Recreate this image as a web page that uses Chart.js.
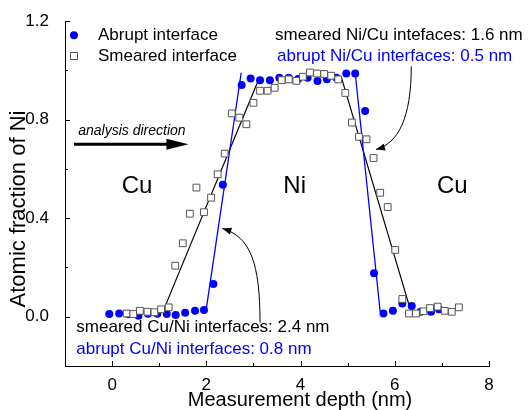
<!DOCTYPE html>
<html>
<head>
<meta charset="utf-8">
<script src="https://cdn.jsdelivr.net/npm/chart.js@4/dist/chart.umd.min.js"></script>
<style>
  html, body { margin:0; padding:0; background:#fff; }
  #wrap { width:531px; height:410px; }
</style>
</head>
<body>
<div id="wrap"><canvas id="c" width="531" height="410"></canvas></div>
<script>
'use strict';

/* ── DATA ──────────────────────────────────── */
const abruptX = [-0.06,0.15,0.35,0.56,0.76,0.96,1.16,1.35,1.55,1.76,1.95,2.15,2.35,2.75,2.94,3.14,3.35,3.55,3.75,3.95,4.15,4.36,4.56,4.76,4.97,5.16,5.37,5.56,5.76,5.96,6.16,6.36,6.55,6.77,6.94];
const abruptY = [0.011,0.013,0.010,0.004,0.012,0.012,0.011,0.007,0.016,0.024,0.027,0.133,0.536,0.940,0.967,0.960,0.960,0.970,0.970,0.965,0.970,0.957,0.964,0.970,0.987,0.987,0.835,0.176,0.013,0.024,0.054,0.043,0.020,0.020,0.030];

const smearX = [0.31,0.45,0.59,0.75,0.90,1.04,1.20,1.34,1.50,1.65,1.79,1.95,2.10,2.24,2.39,2.54,2.70,2.85,3.00,3.14,3.30,3.45,3.60,3.75,3.91,4.05,4.20,4.35,4.50,4.65,4.80,4.95,5.09,5.24,5.40,5.55,5.69,5.85,6.01,6.16,6.30,6.45,6.61,6.75,6.91,7.06,7.21,7.36];
const smearY = [0.013,0.011,0.024,0.020,0.018,0.030,0.038,0.207,0.298,0.418,0.524,0.424,0.483,0.578,0.662,0.825,0.808,0.781,0.868,0.917,0.917,0.929,0.960,0.963,0.957,0.974,0.991,0.987,0.985,0.978,0.963,0.908,0.788,0.730,0.720,0.644,0.503,0.445,0.271,0.072,0.013,0.013,0.022,0.035,0.041,0.024,0.020,0.038];

// fitted interface lines
const abruptFitLeftX  = [2.00, 2.74], abruptFitLeftY  = [0.033, 0.990];
const abruptFitRightX = [5.16, 5.69], abruptFitRightY = [0.990, 0.020];
const smearFitLeftX   = [1.12, 3.13], smearFitLeftY   = [0.040, 0.972];
const smearFitRightX  = [4.86, 6.33], smearFitRightY  = [0.975, 0.030];

// axes
const xMin = -1, xMax = 8, xStep = 1, xLabelEvery = 2;
const yMin = -0.2, yMax = 1.2, yStep = 0.2;
const yLabels = [0.0, 0.4, 0.8, 1.2];

const BLUE = '#0000ff';
const FONT = '"Liberation Sans", Arial, sans-serif';

const pts = (xs, ys) => xs.map((x,i) => ({ x, y: ys[i] }));
const fitLine = (xs, ys, color, w) => ({
  type:'line', data: pts(xs, ys), borderColor: color, borderWidth: w,
  pointRadius: 0, fill: false, tension: 0, order: 3
});

/* ── ANNOTATIONS PLUGIN ────────────────────── */
function text(ctx, s, x, y, size, color, align, style) {
  ctx.font = (style||'') + ' ' + size + 'px ' + FONT;
  ctx.fillStyle = color;
  ctx.textAlign = align || 'left';
  ctx.textBaseline = 'middle';
  ctx.fillText(s, x, y);
}

function curvedArrow(ctx, p0, c1, c2, p1) {
  ctx.save();
  ctx.strokeStyle = '#000'; ctx.fillStyle = '#000'; ctx.lineWidth = 1;
  ctx.beginPath();
  ctx.moveTo(p0[0], p0[1]);
  ctx.bezierCurveTo(c1[0], c1[1], c2[0], c2[1], p1[0], p1[1]);
  ctx.stroke();
  const a = Math.atan2(p1[1]-c2[1], p1[0]-c2[0]);
  const L = 9, W = 3.5;
  ctx.beginPath();
  ctx.moveTo(p1[0], p1[1]);
  ctx.lineTo(p1[0] - L*Math.cos(a) + W*Math.sin(a), p1[1] - L*Math.sin(a) - W*Math.cos(a));
  ctx.lineTo(p1[0] - L*Math.cos(a) - W*Math.sin(a), p1[1] - L*Math.sin(a) + W*Math.cos(a));
  ctx.closePath(); ctx.fill();
  ctx.restore();
}

const annot = {
  id: 'annot',
  afterDraw(chart) {
    const ctx = chart.ctx, xs = chart.scales.x, ys = chart.scales.y;
    const X = v => xs.getPixelForValue(v), Y = v => ys.getPixelForValue(v);
    const P = (x, y) => [X(x), Y(y)];
    const ca = chart.chartArea;
    ctx.save();

    // inward tick marks
    ctx.strokeStyle = '#000'; ctx.lineWidth = 1;
    xs.ticks.forEach(t => {
      const px = Math.round(X(t.value)) + 0.5;
      const major = Math.round(t.value) % xLabelEvery === 0;
      ctx.beginPath(); ctx.moveTo(px, ca.bottom); ctx.lineTo(px, ca.bottom - (major ? 5 : 3)); ctx.stroke();
    });
    ys.ticks.forEach(t => {
      if (Math.abs(t.value - yMin) < 1e-6) return;
      const py = Math.round(Y(t.value)) + 0.5;
      const major = yLabels.some(l => Math.abs(l - t.value) < 1e-6);
      ctx.beginPath(); ctx.moveTo(ca.left, py); ctx.lineTo(ca.left + (major ? 5 : 3), py); ctx.stroke();
    });

    // axis titles
    text(ctx, 'Measurement depth (nm)', 300, 400, 20, '#000', 'center');
    ctx.save();
    ctx.translate(19, 209); ctx.rotate(-Math.PI/2);
    text(ctx, 'Atomic fraction of Ni', 0, 0, 22, '#000', 'center');
    ctx.restore();

    // legend
    const lx = X(-0.81);
    ctx.fillStyle = BLUE;
    ctx.beginPath(); ctx.arc(lx, Y(1.142), 4, 0, Math.PI*2); ctx.fill();
    ctx.fillStyle = '#fff'; ctx.strokeStyle = '#555'; ctx.lineWidth = 1;
    ctx.beginPath(); ctx.rect(Math.round(lx) - 3.5, Math.round(Y(1.058)) - 3.5, 7, 7); ctx.fill(); ctx.stroke();
    text(ctx, 'Abrupt interface', X(-0.30), Y(1.142), 17, '#000');
    text(ctx, 'Smeared interface', X(-0.30), Y(1.058), 17, '#000');

    // interface widths
    text(ctx, 'smeared Ni/Cu intefaces: 1.6 nm', X(3.46), Y(1.142), 17, '#000');
    text(ctx, 'abrupt Ni/Cu interfaces: 0.5 nm', X(3.50), Y(1.058), 17, BLUE);
    text(ctx, 'smeared Cu/Ni interfaces: 2.4 nm', X(-0.76), Y(-0.045), 17, '#000');
    text(ctx, 'abrupt Cu/Ni interfaces: 0.8 nm', X(-0.76), Y(-0.132), 17, BLUE);

    // layer names
    text(ctx, 'Cu', X(0.53), Y(0.528), 24, '#000', 'center');
    text(ctx, 'Ni', X(3.875), Y(0.528), 24, '#000', 'center');
    text(ctx, 'Cu', X(7.22), Y(0.528), 24, '#000', 'center');

    // analysis direction arrow
    text(ctx, 'analysis direction', X(-0.72), Y(0.752), 14, '#000', 'left', 'italic');
    const ay = Y(0.70), ax0 = X(-0.81), ax1 = X(1.62);
    ctx.strokeStyle = '#000'; ctx.fillStyle = '#000'; ctx.lineWidth = 3;
    ctx.beginPath(); ctx.moveTo(ax0, ay); ctx.lineTo(ax1 - 18, ay); ctx.stroke();
    ctx.beginPath(); ctx.moveTo(ax1, ay); ctx.lineTo(ax1 - 22, ay - 5.5); ctx.lineTo(ax1 - 22, ay + 5.5); ctx.closePath(); ctx.fill();

    // curved pointers
    curvedArrow(ctx, P(3.14, -0.024), P(3.14, 0.22), P(2.93, 0.325), P(2.34, 0.358));
    curvedArrow(ctx, P(6.35, 1.016), P(6.35, 0.805), P(6.07, 0.703), P(5.60, 0.679));

    ctx.restore();
  }
};

/* ── CHART ─────────────────────────────────── */
new Chart(document.getElementById('c'), {
  type: 'scatter',
  data: {
    datasets: [
      { label:'Smeared interface', data: pts(smearX, smearY), pointStyle:'rect', pointRadius:4.8,
        backgroundColor:'#fff', borderColor:'#555', borderWidth:1, order: 1 },
      { label:'Abrupt interface', data: pts(abruptX, abruptY), pointStyle:'circle', pointRadius:4,
        backgroundColor: BLUE, borderColor: BLUE, borderWidth:0, order: 2 },
      fitLine(abruptFitLeftX, abruptFitLeftY, BLUE, 1.3),
      fitLine(abruptFitRightX, abruptFitRightY, BLUE, 1.3),
      fitLine(smearFitLeftX, smearFitLeftY, '#000', 1.2),
      fitLine(smearFitRightX, smearFitRightY, '#000', 1.2)
    ]
  },
  options: {
    responsive:false, animation:false, events:[],
    layout:{ padding:{ top:21, right:42, left:0, bottom:0 } },
    plugins:{ legend:{ display:false }, tooltip:{ enabled:false } },
    scales:{
      x:{
        type:'linear', min:xMin, max:xMax,
        grid:{ display:false }, border:{ display:true, color:'#000', width:1 },
        ticks:{ stepSize:xStep, autoSkip:false, maxRotation:0, padding:1, color:'#000',
                font:{ family:FONT, size:17 },
                callback: v => (Math.round(v) % xLabelEvery === 0 ? String(Math.round(v)) : '') },
        afterFit: s => { s.height = 44; }
      },
      y:{
        type:'linear', min:yMin, max:yMax,
        grid:{ display:false }, border:{ display:true, color:'#000', width:1 },
        ticks:{ stepSize:yStep, autoSkip:false, padding:8, color:'#000',
                font:{ family:FONT, size:17 },
                callback: v => (yLabels.some(l => Math.abs(l - v) < 1e-6) ? Math.abs(v).toFixed(1) : '') },
        afterFit: s => { s.width = 65; }
      }
    }
  },
  plugins:[annot]
});
</script>
</body>
</html>
